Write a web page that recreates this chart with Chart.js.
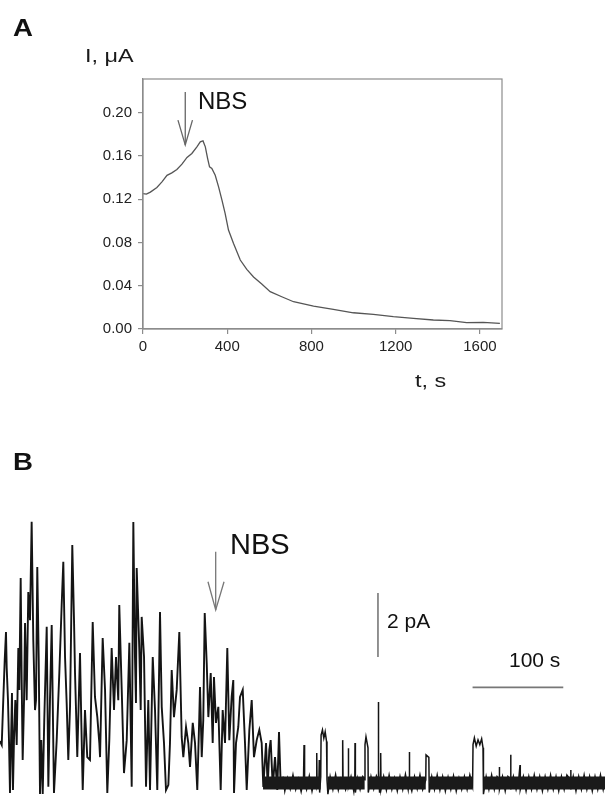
<!DOCTYPE html>
<html lang="en">
<head>
<meta charset="UTF-8">
<title>NBS block of channel current</title>
<style>
    body {
        margin: 0;
        background: #fff;
        font-family: "Liberation Sans", Arial, sans-serif;
    }
    .page {
        position: relative;
        width: 605px;
        height: 796px;
        overflow: hidden;
    }
    .panel {
        position: absolute;
        left: 0;
        width: 605px;
    }
    #panelA { top: 0; height: 430px; }
    #panelB { top: 460px; height: 336px; }
    .txt {
        position: absolute;
        color: #111;
        white-space: nowrap;
        line-height: 1;
    }
    .letter {
        font-weight: bold;
        font-size: 24px;
        transform: scaleX(1.15);
        transform-origin: left top;
    }
    .axis-name {
        font-size: 18px;
        color: #1a1a1a;
        transform: scaleX(1.3);
        transform-origin: left top;
    }
</style>
</head>
<body>
<div class="page">
    <div class="panel" id="panelA"><canvas id="chartA"></canvas></div>
    <div class="panel" id="panelB"><canvas id="chartB"></canvas></div>

    <div class="txt letter" style="left:13px; top:16px;">A</div>
    <div class="txt axis-name" style="left:85px; top:47px;">I, &mu;A</div>
    <div class="txt axis-name" style="left:415px; top:372px;">t, s</div>
    <div class="txt" style="left:198px; top:89px; font-size:24px;">NBS</div>

    <div class="txt letter" style="left:13px; top:450px;">B</div>
    <div class="txt" style="left:230px; top:530px; font-size:29px;">NBS</div>
    <div class="txt" style="left:387px; top:610px; font-size:21px;">2 pA</div>
    <div class="txt" style="left:509px; top:649px; font-size:21px;">100 s</div>
</div>

<script src="https://cdn.jsdelivr.net/npm/chart.js"></script>
<script>
    // ---- panel A: whole-cell current, uA vs time, s ----
    const timeA = [0, 16, 35, 66, 90, 114, 137, 161, 185, 209, 232, 256, 272, 285, 296, 307, 316, 327, 343,
        359, 375, 390, 406, 430, 462, 493, 525, 564, 604, 659, 715, 810, 904, 999, 1094, 1189, 1284, 1379,
        1458, 1537, 1616, 1695];
    const currentA = [0.125, 0.1246, 0.1265, 0.1308, 0.136, 0.142, 0.1443, 0.1474, 0.1523, 0.1585, 0.1622,
        0.1683, 0.1729, 0.1738, 0.1683, 0.1575, 0.1498, 0.1483, 0.142, 0.1313, 0.119, 0.1068, 0.0914, 0.079,
        0.0637, 0.0551, 0.048, 0.0415, 0.0345, 0.0298, 0.0252, 0.0212, 0.0182, 0.015, 0.0135, 0.0114,
        0.0098, 0.0083, 0.0077, 0.0058, 0.0062, 0.0052];
    const xTicksA = [0, 400, 800, 1200, 1600];
    const yTicksA = [0, 0.04, 0.08, 0.12, 0.16, 0.20];
    const arrowA = [[200.7, 0.219], [200.7, 0.170]];
    const arrowHeadA = [[166, 0.193], [200.7, 0.170], [235, 0.193]];

    // ---- panel B: single-channel record, pA vs s (0 = closed level) ----
    const traceBefore = [
        [0, 1.31], [1.9, 1.19], [3.6, 2.59], [5.2, 3.84], [6.6, 4.72], [7.4, 3.59], [8.8, 2.59], [9.9, 1.34],
        [11.0, -0.31], [12.1, 1.19], [13.2, 2.81], [14.3, -0.22], [15.4, 1.34], [16.9, 2.59], [18.4, 1.19],
        [20.2, 4.22], [21.3, 2.91], [22.8, 6.41], [23.9, 3.22], [25.0, 0.72], [26.5, 2.59], [27.6, 5.0],
        [29.4, 2.59], [31.2, 5.97], [33.1, 5.09], [34.9, 8.16], [36.7, 4.47], [38.6, 2.28], [39.7, 2.59],
        [41.1, 6.75], [42.7, 3.84], [44.1, -0.34], [45.5, 1.34], [47.1, -0.34], [48.8, 1.97], [51.5, 4.88],
        [53.3, -0.12], [55.1, 2.59], [57.0, 4.94], [58.1, 2.59], [59.5, -0.31], [62.5, 1.34], [65.4, 3.44],
        [68.0, 5.56], [69.8, 6.91], [71.7, 3.94], [73.5, 2.5], [75.3, 0.72], [77.2, 2.38], [79.7, 7.44],
        [81.6, 5.09], [82.7, 3.44], [85.2, 0.81], [88.2, 4.06], [89.6, 1.97], [91.2, -0.22], [93.7, 2.28],
        [96.2, 0.81], [99.2, 0.72], [102.2, 5.03], [104.7, 2.69], [107.3, 2.06], [109.5, 1.25], [110.3, 0.81],
        [113.2, 4.53], [115.8, 2.91], [118.3, -0.31], [120.5, 1.34], [123.1, 4.22], [125.7, 2.28],
        [127.9, 3.94], [130.4, 2.59], [131.5, 5.56], [134.2, 2.91], [136.7, 0.31], [139.7, 1.34],
        [142.6, 4.38], [145.2, -0.12], [147.0, 8.16], [148.8, 3.94], [149.9, 2.5], [150.7, 6.72],
        [153.6, 4.16], [155.1, 2.28], [156.2, 5.19], [158.8, 3.94], [161.0, -0.12], [163.5, 2.59],
        [165.4, -0.22], [168.4, 3.94], [170.9, 2.28], [173.4, -0.22], [176.4, 5.34], [178.3, 2.38],
        [180.8, 1.25], [183.0, -0.22], [185.6, -0.06], [187.4, 1.25], [189.3, 3.53], [191.8, 2.06],
        [194.8, 2.91], [197.7, 4.72], [200.3, 1.44], [202.1, 0.81], [205.1, 1.75], [207.6, 1.25],
        [209.5, 0.5], [212.5, 1.88], [215.0, 1.25], [217.5, -0.22], [219.7, 2.06], [220.5, 3.0],
        [222.4, 0.81], [224.1, 1.97], [225.7, 5.31], [227.9, 3.75], [229.7, 2.06], [232.3, 3.44],
        [234.5, 1.25], [235.9, 3.31], [238.1, 1.88], [240.7, 2.38], [243.3, -0.22], [245.5, 2.28],
        [248.1, 1.25], [250.6, 4.22], [252.8, 1.34], [255.4, 2.69], [257.2, 3.22], [258.0, -0.31],
        [260.2, 1.25], [262.7, 1.75], [264.6, 2.69], [267.6, 2.91], [270.1, 1.25], [272.0, -0.22],
        [274.9, 1.66], [277.5, 2.59], [280.0, 0.81], [283.0, 1.34], [285.9, 1.66], [288.5, 1.25],
        [290.3, -0.12], [293.3, 1.25], [295.1, -0.12], [296.9, 1.03], [298.4, 1.34], [300.7, -0.12],
        [303.2, 0.81], [305.7, -0.22], [307.6, 1.59], [309.5, -0.12]
    ];
    const traceAfter = [
        [312, 0.2], [314, -0.25], [317, 0.15], [320, -0.18], [323, 0.25], [326, -0.2], [329, 0.12],
        [332, -0.27], [334.6, 0.1], [335.2, 1.19], [335.8, 0.05], [338, -0.2], [341, 0.22], [344, -0.25],
        [347, 0.15], [349, 0.1], [349.2, 0.94], [349.6, -0.1], [351.6, 0.1], [352, 0.72], [352.4, -0.3],
        [353.6, 0.2], [354, 1.5], [355.5, 1.66], [357, 1.4], [358.5, 1.6], [360, 1.3], [360.5, 0.1],
        [361.5, -0.35], [364, 0.2], [367, -0.2], [370, 0.26], [373, -0.22], [376, 0.15], [377.5, 0.1],
        [377.8, 1.34], [378.2, 0.1], [381, -0.2], [383.7, 0.1], [384, 1.09], [384.4, -0.1], [387, 0.2],
        [390, -0.25], [391.2, 0.2], [391.4, 1.25], [391.8, -0.3], [394, 0.15], [397, -0.2], [400, 0.2],
        [402.2, 0.1], [402.4, 1.2], [403.5, 1.44], [405.7, 1.1], [406, -0.3], [409, 0.2], [412, -0.18],
        [415, 0.22], [416.8, 0.1], [417.1, 2.53], [417.5, 0.4], [418.5, -0.3], [419.5, 0.1], [419.7, 0.94],
        [420.1, -0.2], [423, 0.2], [426, -0.22], [429, 0.25], [432, -0.2], [435, 0.15], [438, -0.25],
        [441, 0.2], [444, -0.2], [447, 0.27], [450, -0.2], [451, 0.1], [451.3, 0.97], [451.6, 0.0],
        [454, -0.25], [457, 0.2], [460, -0.18], [463, 0.25], [466, -0.2], [469.4, 0.1], [469.7, 0.88],
        [472.8, 0.8], [473.2, -0.3], [476, 0.2], [479, -0.2], [482, 0.25], [485, -0.22], [488, 0.2],
        [491, -0.25], [494, 0.18], [497, -0.2], [500, 0.22], [503, -0.25], [506, 0.15], [509, -0.2],
        [512, 0.2], [515, -0.2], [518, 0.25], [521, -0.1], [521.5, 1.2], [523, 1.41], [525, 1.15],
        [527, 1.35], [529, 1.2], [531, 1.38], [532.5, 1.1], [533, -0.35], [536, 0.2], [539, -0.2],
        [542, 0.25], [545, -0.2], [548, 0.2], [550.2, 0.1], [550.5, 0.5], [550.8, -0.2], [554, 0.2],
        [557, -0.25], [560, 0.2], [562.7, 0.1], [563, 0.88], [563.3, -0.2], [566, 0.2], [569, -0.2],
        [572, 0.15], [573.3, 0.56], [573.6, -0.2], [577, 0.2], [580, -0.25], [583, 0.2], [586, -0.2],
        [589, 0.25], [592, -0.2], [595, 0.2], [598, -0.25], [601, 0.2], [604, -0.2], [607, 0.25],
        [610, -0.2], [613, 0.2], [616, -0.25], [619, 0.2], [622, -0.2], [625, 0.25], [628.9, 0.1],
        [629.2, 0.41], [629.5, -0.2], [632, 0.2], [635, -0.25], [638, 0.2], [641, -0.2], [644, 0.25],
        [647, -0.2], [650, 0.2], [653, -0.25], [656, 0.2], [659, -0.2], [662, 0.25], [665, -0.2], [667, 0.1]
    ];
    // closed-level noise band, broken where the channel opens
    const closedBand = [[290, 353.5], [361, 402], [406.2, 469.4], [473.4, 521.2], [533.2, 667]];
    const arrowB = [[237.8, 7.23], [237.8, 5.41]];
    const arrowHeadB = [[229.3, 6.29], [237.8, 5.41], [247, 6.29]];
    const barCurrent = [[416.7, 3.94], [416.7, 5.94]];   // 2 pA
    const barTime = [[521, 2.99], [621, 2.99]];          // 100 s

    const toXY = pts => pts.map(p => ({ x: p[0], y: p[1] }));

    function bandPoints(segs) {
        const out = [];
        segs.forEach((s, i) => {
            if (i > 0) out.push({ x: s[0] - 0.1, y: null });
            out.push({ x: s[0], y: 0 }, { x: s[1], y: 0 });
        });
        return out;
    }

    function lineSet(data, color, width) {
        return {
            data: data,
            borderColor: color,
            borderWidth: width,
            pointRadius: 0,
            fill: false,
            tension: 0,
            spanGaps: false,
            borderCapStyle: 'butt'
        };
    }

    Chart.defaults.font.family = '"Liberation Sans", Arial, sans-serif';
    Chart.defaults.animation = false;

    const frameBox = {
        id: 'frameBox',
        afterDraw(chart) {
            const { ctx, chartArea: a } = chart;
            ctx.save();
            ctx.strokeStyle = '#8c8c8c';
            ctx.lineWidth = 1.2;
            ctx.strokeRect(a.left, a.top, a.right - a.left, a.bottom - a.top);
            ctx.restore();
        }
    };

    const axisGray = '#8c8c8c';

    new Chart(document.getElementById('chartA'), {
        type: 'line',
        data: {
            datasets: [
                lineSet(timeA.map((t, i) => ({ x: t, y: currentA[i] })), '#555', 1.3),
                lineSet(toXY(arrowA), '#666', 1.3),
                lineSet(toXY(arrowHeadA), '#666', 1.3)
            ]
        },
        options: {
            responsive: true,
            maintainAspectRatio: false,
            layout: { padding: { left: 0, top: 79, right: 103, bottom: 71 } },
            plugins: { legend: { display: false }, tooltip: { enabled: false } },
            scales: {
                x: {
                    type: 'linear',
                    min: 0,
                    max: 1705,
                    afterFit: s => { s.height = 30; },
                    afterBuildTicks: s => { s.ticks = xTicksA.map(v => ({ value: v })); },
                    grid: { drawOnChartArea: false, tickLength: 5, color: axisGray, lineWidth: 1.2 },
                    border: { color: axisGray, width: 1.2 },
                    ticks: { color: '#222', font: { size: 15 }, padding: 4, maxRotation: 0, callback: v => String(v) }
                },
                y: {
                    min: 0,
                    max: 0.231,
                    afterFit: s => { s.width = 143; },
                    afterBuildTicks: s => { s.ticks = yTicksA.map(v => ({ value: v })); },
                    grid: { drawOnChartArea: false, tickLength: 5, color: axisGray, lineWidth: 1.2 },
                    border: { color: axisGray, width: 1.2 },
                    ticks: { color: '#222', font: { size: 15 }, padding: 6, callback: v => v.toFixed(2) }
                }
            }
        },
        plugins: [frameBox]
    });

    new Chart(document.getElementById('chartB'), {
        type: 'line',
        data: {
            datasets: [
                lineSet(bandPoints(closedBand), '#1a1a1a', 13),
                lineSet(toXY(traceBefore), '#141414', 1.9),
                lineSet(toXY(traceAfter), '#141414', 1.5),
                lineSet(toXY(arrowB), '#777', 1.3),
                lineSet(toXY(arrowHeadB), '#777', 1.3),
                lineSet(toXY(barCurrent), '#777', 1.6),
                lineSet(toXY(barTime), '#777', 1.6)
            ]
        },
        options: {
            responsive: true,
            maintainAspectRatio: false,
            layout: { padding: 0 },
            plugins: { legend: { display: false }, tooltip: { enabled: false } },
            scales: {
                x: { type: 'linear', min: 0, max: 667, display: false },
                y: { min: -0.406, max: 10.094, display: false }
            }
        }
    });
</script>
</body>
</html>
